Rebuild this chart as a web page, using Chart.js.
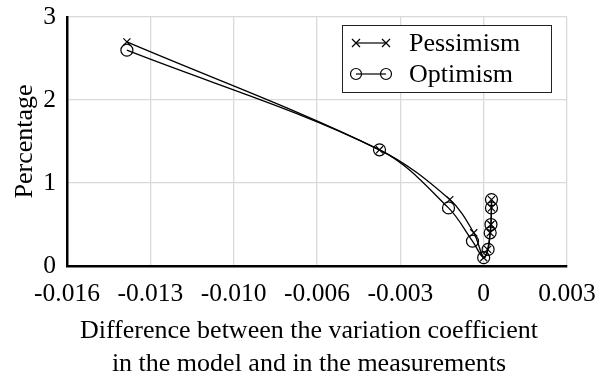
<!DOCTYPE html>
<html>
<head>
<meta charset="utf-8">
<script src="https://cdn.jsdelivr.net/npm/chart.js@4/dist/chart.umd.min.js"></script>
<style>
  html, body { margin: 0; padding: 0; background: #fff; }
  #wrap { width: 605px; height: 381px; }
</style>
</head>
<body>
<div id="wrap"><canvas id="ch"></canvas></div>
<script>
// valores
const pessX = [-0.0137, -0.0040, -0.0013, -0.00038, 0, 0.00015, 0.00025, 0.00028, 0.0003, 0.0003];
const pessY = [2.7, 1.4, 0.8, 0.4, 0.1, 0.2, 0.4, 0.5, 0.7, 0.8];
const optX  = [-0.0137, -0.0040, -0.00135, -0.00043, 0, 0.00017, 0.00025, 0.00028, 0.0003, 0.0003];
const optY  = [2.6, 1.4, 0.7, 0.3, 0.1, 0.2, 0.4, 0.5, 0.7, 0.8];
const seriesNames = ['Pessimism', 'Optimism'];
const xTickVals = [-0.016, -0.0128, -0.0096, -0.0064, -0.0032, 0, 0.0032];
const xTickLbls = ['-0.016', '-0.013', '-0.010', '-0.006', '-0.003', '0', '0.003'];
const yTickVals = [0, 1, 2, 3];
const xTitle = ['Difference between the variation coefficient', 'in the model and in the measurements'];
const yTitle = 'Percentage';

const FONT = 'Liberation Serif';
const pts = (xs, ys) => xs.map((x, i) => ({ x, y: ys[i] }));

// área fixa do gráfico: sem folga extra dos rótulos
function fixPad(s) {
  s.paddingTop = 0; s.paddingBottom = 0; s.paddingLeft = 0; s.paddingRight = 0;
}

const boxLegend = {
  id: 'boxLegend',
  afterDraw(chart) {
    const ctx = chart.ctx;
    ctx.save();

    // título do eixo x (centrado na figura, não no eixo)
    ctx.fillStyle = '#000';
    ctx.font = '26px "' + FONT + '"';
    ctx.textAlign = 'center';
    ctx.textBaseline = 'middle';
    xTitle.forEach((t, i) => ctx.fillText(t, 309, 331.5 + i * 32.2));

    const x0 = 342, y0 = 25, w = 209, h = 67;
    ctx.fillStyle = '#fff';
    ctx.fillRect(x0, y0, w, h);
    ctx.strokeStyle = '#222';
    ctx.lineWidth = 1;
    ctx.strokeRect(x0 + 0.5, y0 + 0.5, w, h);
    const rows = [{ y: y0 + 18, style: 'x' }, { y: y0 + 49, style: 'o' }];
    rows.forEach((r, i) => {
      ctx.strokeStyle = '#000';
      ctx.lineWidth = 1.2;
      ctx.beginPath(); ctx.moveTo(356, r.y); ctx.lineTo(386, r.y); ctx.stroke();
      [356, 386].forEach(px => {
        ctx.beginPath();
        if (r.style === 'x') {
          ctx.moveTo(px - 4, r.y - 4); ctx.lineTo(px + 4, r.y + 4);
          ctx.moveTo(px + 4, r.y - 4); ctx.lineTo(px - 4, r.y + 4);
        } else {
          ctx.arc(px, r.y, 5.5, 0, Math.PI * 2);
        }
        ctx.stroke();
      });
      ctx.fillStyle = '#000';
      ctx.font = '26px "' + FONT + '"';
      ctx.textAlign = 'left';
      ctx.textBaseline = 'middle';
      ctx.fillText(seriesNames[i], 409, r.y + 1);
    });
    ctx.restore();
  }
};

new Chart(document.getElementById('ch'), {
  type: 'scatter',
  data: {
    datasets: [
      {
        label: seriesNames[0], data: pts(pessX, pessY), showLine: true,
        borderColor: '#000', borderWidth: 1.3, tension: 0.35,
        pointStyle: 'crossRot', pointRadius: 5, pointBorderColor: '#000', pointBorderWidth: 1.2,
        backgroundColor: 'rgba(0,0,0,0)'
      },
      {
        label: seriesNames[1], data: pts(optX, optY), showLine: true,
        borderColor: '#000', borderWidth: 1.3, tension: 0.35,
        pointStyle: 'circle', pointRadius: 6, pointBorderColor: '#000', pointBorderWidth: 1.2,
        pointBackgroundColor: 'rgba(0,0,0,0)', backgroundColor: 'rgba(0,0,0,0)'
      }
    ]
  },
  options: {
    responsive: true,
    maintainAspectRatio: false,
    animation: false,
    layout: { padding: { top: 17, right: 38, left: 0, bottom: 0 } },
    plugins: { legend: { display: false }, tooltip: { enabled: false } },
    scales: {
      x: {
        type: 'linear', min: -0.016, max: 0.0032,
        afterBuildTicks: s => { s.ticks = xTickVals.map(v => ({ value: v })); },
        afterFit: s => { s.height = 115; fixPad(s); },
        border: { display: true, color: '#000', width: 2.5 },
        grid: { color: '#d9d9d9', lineWidth: 1.3, drawTicks: false },
        ticks: {
          color: '#000', font: { family: FONT, size: 25.5 }, padding: 13, maxRotation: 0,
          callback: (v, i) => xTickLbls[i]
        },
        title: { display: false }
      },
      y: {
        type: 'linear', min: 0, max: 3,
        afterBuildTicks: s => { s.ticks = yTickVals.map(v => ({ value: v })); },
        afterFit: s => { s.width = 67; fixPad(s); },
        border: { display: true, color: '#000', width: 2.5 },
        grid: { color: '#d9d9d9', lineWidth: 1.3, drawTicks: false },
        ticks: { color: '#000', font: { family: FONT, size: 25.5 }, padding: 11 },
        title: { display: true, text: yTitle, color: '#000', font: { family: FONT, size: 26 }, padding: { top: 10, bottom: 0 } }
      }
    }
  },
  plugins: [boxLegend]
});
</script>
</body>
</html>
